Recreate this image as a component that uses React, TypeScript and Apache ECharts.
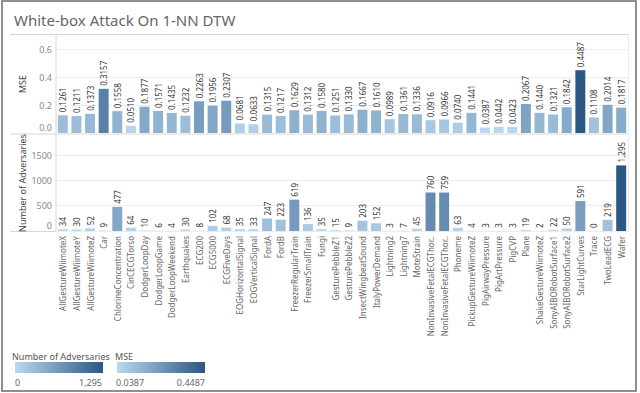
import React, { useEffect, useRef } from "react";
import * as echarts from "echarts";

const categories = [
  "AllGestureWiimoteX", "AllGestureWiimoteY", "AllGestureWiimoteZ", "Car",
  "ChlorineConcentration", "CinCECGTorso", "DodgerLoopDay", "DodgerLoopGame",
  "DodgerLoopWeekend", "Earthquakes", "ECG200", "ECG5000", "ECGFiveDays",
  "EOGHorizontalSignal", "EOGVerticalSignal", "FordA", "FordB",
  "FreezerRegularTrain", "FreezerSmallTrain", "Fungi", "GesturePebbleZ1",
  "GesturePebbleZ2", "InsectWingbeatSound", "ItalyPowerDemand", "Lightning2",
  "Lightning7", "MoteStrain", "NonInvasiveFetalECGThorax1",
  "NonInvasiveFetalECGThorax2", "Phoneme", "PickupGestureWiimoteZ",
  "PigAirwayPressure", "PigArtPressure", "PigCVP", "Plane",
  "ShakeGestureWiimoteZ", "SonyAIBORobotSurface1", "SonyAIBORobotSurface2",
  "StarLightCurves", "Trace", "TwoLeadECG", "Wafer",
];

const mseValues = [
  0.1261, 0.1211, 0.1373, 0.3157, 0.1558, 0.051, 0.1877, 0.1571, 0.1435,
  0.1232, 0.2263, 0.1956, 0.2307, 0.0681, 0.0633, 0.1315, 0.1217, 0.1629,
  0.1312, 0.158, 0.1251, 0.133, 0.1667, 0.161, 0.0989, 0.1361, 0.1336,
  0.0916, 0.0966, 0.074, 0.1441, 0.0387, 0.0442, 0.0423, 0.2067, 0.144,
  0.1321, 0.1842, 0.4487, 0.1108, 0.2014, 0.1817,
];

const adversaryCounts = [
  34, 30, 52, 9, 477, 64, 10, 6, 4, 30, 8, 102, 68, 35, 33, 247, 223, 619,
  136, 35, 15, 9, 203, 152, 3, 7, 45, 760, 759, 63, 4, 3, 3, 3, 19, 2, 22,
  50, 591, 0, 219, 1295,
];

const mseTicks = [0, 0.2, 0.4, 0.6];
const countTicks = [0, 500, 1000, 1500];

const LIGHT = "#b9d8f0";
const DARK = "#2a5783";

export default function App() {
  const ref = useRef<HTMLDivElement>(null);

  useEffect(() => {
    document.body.style.margin = "0";
    const chart = echarts.init(ref.current!, null, { renderer: "svg" });
    const font = "'Noto Sans', sans-serif";
    const sep = "#d6d6d6";
    const mseMin = Math.min(...mseValues);
    const mseMax = Math.max(...mseValues);
    const cntMin = Math.min(...adversaryCounts);
    const cntMax = Math.max(...adversaryCounts);

    const grad = () =>
      new echarts.graphic.LinearGradient(0, 0, 1, 0, [
        { offset: 0, color: LIGHT },
        { offset: 1, color: DARK },
      ]);

    const valueLabel = (fmt: (v: number) => string) => ({
      show: true,
      position: "top",
      rotate: 90,
      align: "left",
      verticalAlign: "middle",
      distance: 3,
      fontSize: 8,
      color: "#333",
      fontFamily: font,
      formatter: (p: any) => fmt(p.value),
    });

    const tickRich = {
      lo: { fontSize: 9, color: "#888", padding: [0, 0, 11, 0] },
    };

    chart.setOption({
      animation: false,
      textStyle: { fontFamily: font },
      grid: [
        { left: 56, width: 572, top: 49, height: 84 },
        { left: 56, width: 572, top: 155, height: 76 },
      ],
      xAxis: [
        {
          type: "category",
          gridIndex: 0,
          data: categories,
          axisLine: { show: false },
          axisTick: { show: false },
          axisLabel: { show: false },
        },
        {
          type: "category",
          gridIndex: 1,
          data: categories,
          axisLine: { show: false },
          axisTick: { show: false },
          axisLabel: {
            interval: 0,
            rotate: 90,
            fontSize: 8,
            color: "#666",
            margin: 5,
            width: 104,
            overflow: "truncate",
            ellipsis: "..",
          },
        },
      ],
      yAxis: [
        {
          type: "value",
          gridIndex: 0,
          min: mseTicks[0],
          max: mseTicks[mseTicks.length - 1],
          interval: mseTicks[1] - mseTicks[0],
          axisLine: { show: false },
          axisTick: { show: false },
          axisLabel: {
            fontSize: 9,
            color: "#888",
            margin: 4,
            rich: tickRich,
            formatter: (v: number) => (v === 0 ? "{lo|0.0}" : v.toFixed(1)),
          },
          splitLine: { lineStyle: { color: "#ededed" } },
        },
        {
          type: "value",
          gridIndex: 1,
          min: countTicks[0],
          max: countTicks[countTicks.length - 1],
          interval: countTicks[1] - countTicks[0],
          axisLine: { show: false },
          axisTick: { show: false },
          axisLabel: {
            fontSize: 9,
            color: "#888",
            margin: 4,
            rich: tickRich,
            formatter: (v: number) => (v === 0 ? "{lo|0}" : String(v)),
          },
          splitLine: { lineStyle: { color: "#ededed" } },
        },
      ],
      visualMap: [
        {
          type: "continuous",
          show: false,
          seriesIndex: 0,
          min: mseMin,
          max: mseMax,
          inRange: { color: [LIGHT, DARK] },
        },
        {
          type: "continuous",
          show: false,
          seriesIndex: 1,
          min: cntMin,
          max: cntMax,
          inRange: { color: [LIGHT, DARK] },
        },
      ],
      series: [
        {
          type: "bar",
          name: "MSE",
          xAxisIndex: 0,
          yAxisIndex: 0,
          data: mseValues,
          barCategoryGap: "27%",
          label: valueLabel((v) => v.toFixed(4)),
        },
        {
          type: "bar",
          name: "Number of Adversaries",
          xAxisIndex: 1,
          yAxisIndex: 1,
          data: adversaryCounts,
          barCategoryGap: "27%",
          label: valueLabel((v) => v.toLocaleString("en-US")),
        },
      ],
      graphic: [
        {
          type: "rect",
          shape: { x: 2, y: 1, width: 634, height: 390 },
          style: { fill: "none", stroke: "#6a6a6a", lineWidth: 1.5 },
          silent: true,
        },
        {
          type: "text",
          x: 14,
          y: 20,
          style: {
            text: "White-box Attack On 1-NN DTW",
            fontSize: 15,
            fontFamily: font,
            fill: "#666",
            verticalAlign: "middle",
          },
        },
        { type: "line", shape: { x1: 10, y1: 34.5, x2: 628, y2: 34.5 }, style: { stroke: sep, lineWidth: 1 } },
        { type: "line", shape: { x1: 10, y1: 134, x2: 628, y2: 134 }, style: { stroke: sep, lineWidth: 1 } },
        { type: "line", shape: { x1: 10, y1: 231.5, x2: 628, y2: 231.5 }, style: { stroke: sep, lineWidth: 1 } },
        { type: "line", shape: { x1: 56, y1: 34, x2: 56, y2: 232 }, style: { stroke: sep, lineWidth: 1 } },
        { type: "line", shape: { x1: 628.5, y1: 34, x2: 628.5, y2: 232 }, style: { stroke: "#ececec", lineWidth: 1 } },
        {
          type: "text",
          x: 22,
          y: 84,
          rotation: Math.PI / 2,
          style: { text: "MSE", fontSize: 9, fontFamily: font, fill: "#444", align: "center", verticalAlign: "middle" },
        },
        {
          type: "text",
          x: 22,
          y: 183,
          rotation: Math.PI / 2,
          style: { text: "Number of Adversaries", fontSize: 9, fontFamily: font, fill: "#444", align: "center", verticalAlign: "middle" },
        },
        // legends
        {
          type: "text",
          x: 12,
          y: 356,
          style: { text: "Number of Adversaries", fontSize: 9, fontFamily: font, fill: "#555", verticalAlign: "middle" },
        },
        { type: "rect", shape: { x: 15, y: 362, width: 88, height: 11 }, style: { fill: grad() } },
        {
          type: "text",
          x: 15,
          y: 382,
          style: { text: cntMin.toLocaleString("en-US"), fontSize: 9, fontFamily: font, fill: "#666", verticalAlign: "middle" },
        },
        {
          type: "text",
          x: 102,
          y: 382,
          style: { text: cntMax.toLocaleString("en-US"), fontSize: 9, fontFamily: font, fill: "#666", align: "right", verticalAlign: "middle" },
        },
        {
          type: "text",
          x: 115,
          y: 356,
          style: { text: "MSE", fontSize: 9, fontFamily: font, fill: "#555", verticalAlign: "middle" },
        },
        { type: "rect", shape: { x: 117, y: 362, width: 88, height: 11 }, style: { fill: grad() } },
        {
          type: "text",
          x: 116,
          y: 382,
          style: { text: mseMin.toFixed(4), fontSize: 9, fontFamily: font, fill: "#666", verticalAlign: "middle" },
        },
        {
          type: "text",
          x: 205,
          y: 382,
          style: { text: mseMax.toFixed(4), fontSize: 9, fontFamily: font, fill: "#666", align: "right", verticalAlign: "middle" },
        },
      ],
    });
    return () => chart.dispose();
  }, []);

  return <div ref={ref} style={{ width: 640, height: 393 }} />;
}
